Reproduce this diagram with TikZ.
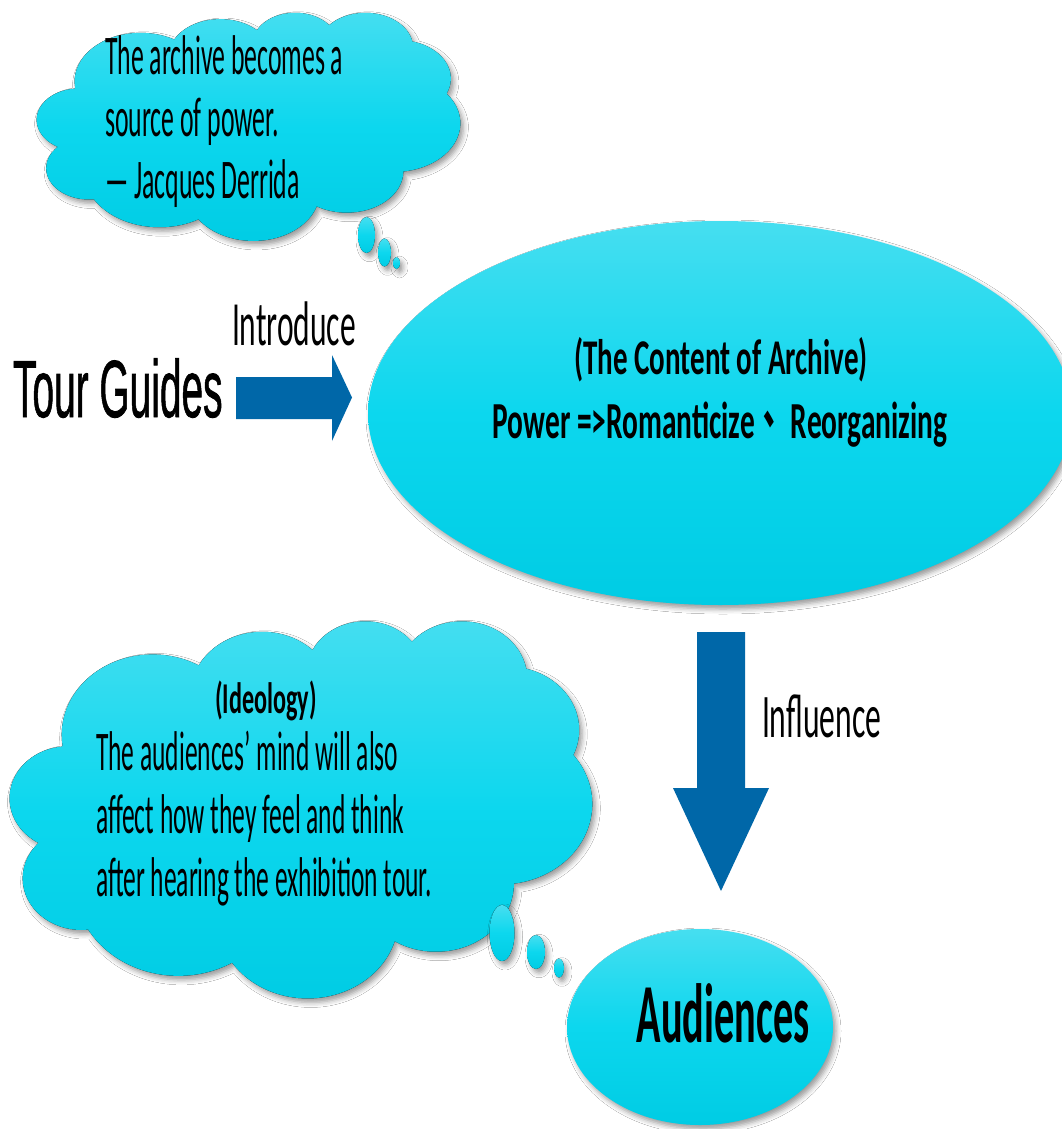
\documentclass[tikz,border=0pt]{standalone}
\usepackage{fontspec}
\setmainfont{Carlito}
\newfontfamily\arialfont[FakeBold=1.2]{Liberation Sans}
\newfontfamily\cjkfont{Noto Sans CJK TC}
\usetikzlibrary{shapes.geometric,shadows.blur}

\definecolor{skytop}{RGB}{70,222,240}
\definecolor{skymid}{RGB}{12,215,238}
\definecolor{skybot}{RGB}{0,204,228}
\definecolor{arrowblue}{RGB}{0,103,168}

% Cloud outline built from elliptic arcs (43200 x 43200 design box, y pointing down).
% Each arc: x radius, y radius, start direction, sweep (degrees, direction angles).
\def\cloudpath{(3900,14370)}
\newcommand\cloudarc[4]{%
  \pgfmathsetmacro\ooS{atan2((#1)*sin(#3),(#2)*cos(#3))}%
  \pgfmathsetmacro\ooE{atan2((#1)*sin((#3)+(#4)),(#2)*cos((#3)+(#4)))}%
  \pgfmathsetmacro\ooD{mod(\ooE-\ooS+720,360)}%
  \xdef\cloudpath{\cloudpath\space arc[x radius=#1, y radius=#2, start angle=\ooS, delta angle=\ooD]}%
}
\cloudarc{6753}{9190}{-190.4875}{123.7805}
\cloudarc{5333}{7267}{-144.1024}{89.9452}
\cloudarc{4365}{5945}{-145.8079}{99.7230}
\cloudarc{4857}{6595}{-130.9861}{117.2417}
\cloudarc{5333}{7273}{-78.7089}{109.0269}
\cloudarc{6775}{9220}{-46.2673}{130.2690}
\cloudarc{5785}{7867}{0.6250}{114.0333}
\cloudarc{6752}{9215}{22.4516}{115.1726}
\cloudarc{7720}{10543}{66.2426}{75.7110}
\cloudarc{4360}{5918}{-274.9421}{146.7356}
\cloudarc{4345}{5945}{-246.8285}{152.5189}
\xdef\cloudpath{\cloudpath\space -- cycle}

\tikzset{
  sky/.style={top color=skytop, bottom color=skybot, middle color=skymid},
  softshadow/.style={blur shadow={shadow xshift=3pt, shadow yshift=-4pt,
      shadow blur radius=5pt, shadow opacity=40}},
  bubble/.style={sky, softshadow, draw=none},
  txt/.style={inner sep=0pt, outer sep=0pt},
  blockarrow/.style={fill=arrowblue, draw=none},
}

\begin{document}
\begin{tikzpicture}[x=1pt, y=-1pt]
  \fill[white] (0,0) rectangle (1062,1129);
  \useasboundingbox (0,0) rectangle (1062,1129);

  % quotation cloud, top left
  \begin{scope}[shift={(37,12)}, x=0.0097917pt, y=-0.0052778pt]
    \fill[sky, softshadow] \cloudpath;
  \end{scope}
  \fill[bubble] (366.5,235) ellipse [x radius=8.5, y radius=18];
  \fill[bubble] (384.5,252.5) ellipse [x radius=6.5, y radius=14];
  \fill[bubble] (396.5,263) ellipse [x radius=3.5, y radius=6];

  % ideology cloud, bottom left
  \begin{scope}[shift={(10,620)}, x=0.013472pt, y=-0.0087269pt]
    \fill[sky, softshadow] \cloudpath;
  \end{scope}
  \fill[bubble] (502,933) ellipse [x radius=12.5, y radius=28];
  \fill[bubble] (536,952) ellipse [x radius=9, y radius=17];
  \fill[bubble] (559,968) ellipse [x radius=5, y radius=9.5];

  % ellipses
  \node[ellipse, sky, softshadow, minimum width=704pt, minimum height=384pt, inner sep=0pt]
    (archive) at (720,413) {};
  \node[ellipse, sky, softshadow, minimum width=266pt, minimum height=196pt, inner sep=0pt]
    (audiences) at (700,1027) {};

  % block arrows
  \fill[blockarrow] (236,377) -- (332,377) -- (332,355) -- (352,397.5)
    -- (332,441) -- (332,419) -- (236,419) -- cycle;
  \fill[blockarrow] (697,632) -- (745,632) -- (745,788) -- (769,788)
    -- (721,891) -- (673,788) -- (697,788) -- cycle;

  % texts
  \node[txt, anchor=base west] (quote) at (105,75)
    {\scalebox{0.46}[1]{\fontsize{56}{62}\selectfont
     \begin{tabular}[t]{@{}l@{}}The archive becomes a\\ source of power.\\ — Jacques Derrida\end{tabular}}};
  \node[txt, anchor=base west] (guides) at (13,417)
    {\scalebox{0.48}[1]{\arialfont\fontsize{81}{90}\selectfont Tour Guides}};
  \node[txt, anchor=base west] (introduce) at (232,345)
    {\scalebox{0.5}[1]{\fontsize{63}{70}\selectfont Introduce}};
  \node[txt, anchor=base] (content) at (721,374)
    {\scalebox{0.58}[1]{\bfseries\fontsize{50}{56}\selectfont (The Content of Archive)}};
  \node[txt, anchor=base] (power) at (720,438)
    {\scalebox{0.565}[1]{\bfseries\fontsize{52}{58}\selectfont Power =>Romanticize{\cjkfont 、} Reorganizing}};
  \node[txt, anchor=base] (ideohead) at (266,713)
    {\scalebox{0.55}[1]{\bfseries\fontsize{44}{50}\selectfont (Ideology)}};
  \node[txt, anchor=base west] (ideobody) at (96,770)
    {\scalebox{0.455}[1]{\fontsize{56}{63}\selectfont
     \begin{tabular}[t]{@{}l@{}}The audiences’ mind will also\\ affect how they feel and think\\ after hearing the exhibition tour.\end{tabular}}};
  \node[txt, anchor=base west] (influence) at (762,737)
    {\scalebox{0.51}[1]{\fontsize{62}{68}\selectfont Influence}};
  \node[txt, anchor=base] (audtext) at (723,1042)
    {\scalebox{0.48}[1]{\bfseries\fontsize{84}{90}\selectfont Audiences}};
\end{tikzpicture}
\end{document}
